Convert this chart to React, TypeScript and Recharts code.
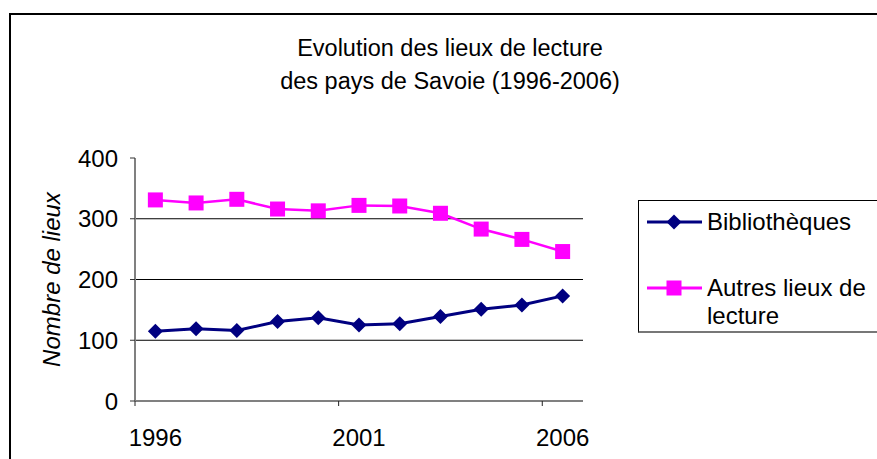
import { LineChart, Line, XAxis, YAxis, ReferenceLine, Legend, Label } from 'recharts'

const years = ['1996', '1997', '1998', '1999', '2000', '2001', '2002', '2003', '2004', '2005', '2006']
const bibliotheques = [115, 119, 116, 131, 137, 125, 127, 139, 151, 158, 173]
const autresLieux = [331, 326, 332, 316, 313, 322, 321, 309, 283, 266, 246]
const yTicks = [0, 100, 200, 300, 400]
const gridValues = [100, 200, 300]
const legendOrder = ['bib', 'autres']

const data = years.map((year, i) => ({ year, bib: bibliotheques[i], autres: autresLieux[i] }))

const FONT = '"Liberation Sans", Arial, sans-serif'
const W = 877
const H = 459
const PLOT_LEFT = 135
const PLOT_RIGHT = 583
const PLOT_TOP = 158
const PLOT_BOTTOM = 401
const XAXIS_H = 30
const BAND = (PLOT_RIGHT - PLOT_LEFT) / years.length

const NAVY = '#000080'
const MAGENTA = '#FF00FF'

const Diamond = ({ cx, cy, fill }: any) => {
    if (cx == null || cy == null) return null
    const r = 7.5
    return <polygon points={`${cx},${cy - r} ${cx + r},${cy} ${cx},${cy + r} ${cx - r},${cy}`} fill={fill} />
}

const Square = ({ cx, cy, fill }: any) => {
    if (cx == null || cy == null) return null
    const s = 15
    return <rect x={cx - s / 2} y={cy - s / 2} width={s} height={s} fill={fill} />
}

// ticks sit on category boundaries, labels on category centres (Excel style)
const YearTick = ({ x, y, payload }: any) => {
    const tx = x - BAND / 2
    return (
        <g>
            <line x1={tx} x2={tx} y1={y} y2={y + 5} stroke="#222" strokeWidth={1} />
            <text x={x} y={y + 45} textAnchor="middle" fontSize={24} fontFamily={FONT} fill="#000">
                {payload.value}
            </text>
        </g>
    )
}

const YLabel = ({ viewBox }: any) => {
    const cx = viewBox.x + 60
    const cy = viewBox.y + viewBox.height / 2
    return (
        <text
            x={cx}
            y={cy}
            transform={`rotate(-90 ${cx} ${cy})`}
            textAnchor="middle"
            fontSize={24}
            fontStyle="italic"
            fontFamily={FONT}
            fill="#000"
        >
            Nombre de lieux
        </text>
    )
}

const LegendBox = ({ payload }: any) => {
    const rows = [7, 73]
    const items = [...(payload || [])].sort(
        (a: any, b: any) => legendOrder.indexOf(a.dataKey) - legendOrder.indexOf(b.dataKey)
    )
    return (
        <div
            style={{
                position: 'relative',
                width: 250,
                height: 133,
                boxSizing: 'border-box',
                borderTop: '1px solid #000',
                borderLeft: '1px solid #000',
                borderBottom: '2px solid #777',
                background: '#fff',
                fontFamily: FONT,
                fontSize: 24,
                lineHeight: '28px',
                color: '#000',
            }}
        >
            {items.map((entry: any, i: number) => (
                <div key={entry.value} style={{ position: 'absolute', left: 0, top: rows[i] }}>
                    <svg width={66} height={28} style={{ position: 'absolute', left: 0, top: 0 }}>
                        <line x1={8} x2={63} y1={14} y2={14} stroke={entry.color} strokeWidth={3} />
                        {entry.dataKey === 'bib' ? (
                            <Diamond cx={35} cy={14} fill={entry.color} />
                        ) : (
                            <Square cx={35} cy={14} fill={entry.color} />
                        )}
                    </svg>
                    <div style={{ position: 'absolute', left: 68, top: 0, width: 172 }}>{entry.value}</div>
                </div>
            ))}
        </div>
    )
}

export default function App() {
    return (
        <div style={{ position: 'absolute', left: 0, top: 0, width: W, height: H, overflow: 'hidden', background: '#fff' }}>
            <div
                style={{
                    position: 'absolute',
                    left: 9,
                    top: 13,
                    width: 900,
                    height: 500,
                    border: '2px solid #000',
                    boxSizing: 'border-box',
                }}
            />
            <div
                style={{
                    position: 'absolute',
                    left: 0,
                    top: 32,
                    width: 900,
                    textAlign: 'center',
                    fontFamily: FONT,
                    fontSize: 23.5,
                    lineHeight: '33px',
                    color: '#000',
                }}
            >
                Evolution des lieux de lecture
                <br />
                des pays de Savoie (1996-2006)
            </div>
            <div style={{ position: 'absolute', left: 0, top: 0 }}>
                <LineChart
                    width={W}
                    height={H}
                    data={data}
                    margin={{ top: PLOT_TOP, right: W - PLOT_RIGHT, bottom: H - PLOT_BOTTOM - XAXIS_H, left: 0 }}
                >
                    <XAxis
                        dataKey="year"
                        interval={4}
                        height={XAXIS_H}
                        padding={{ left: BAND / 2, right: BAND / 2 }}
                        tickLine={false}
                        tickSize={0}
                        tickMargin={0}
                        axisLine={{ stroke: '#808080', strokeWidth: 2 }}
                        tick={<YearTick />}
                    />
                    <YAxis
                        width={PLOT_LEFT}
                        domain={[0, 400]}
                        ticks={yTicks}
                        interval={0}
                        tickSize={5}
                        tickMargin={12}
                        tickLine={{ stroke: '#333' }}
                        axisLine={{ stroke: '#808080', strokeWidth: 2 }}
                        tick={{ fontSize: 24, fontFamily: FONT, fill: '#000' }}
                    >
                        <Label content={<YLabel />} />
                    </YAxis>
                    {gridValues.map((v) => (
                        <ReferenceLine key={v} y={v} stroke="#000" strokeWidth={1} />
                    ))}
                    <Legend
                        layout="vertical"
                        align="center"
                        verticalAlign="middle"
                        wrapperStyle={{ left: 638, top: 200, width: 250, height: 133 }}
                        content={<LegendBox />}
                    />
                    <Line
                        type="linear"
                        dataKey="bib"
                        name="Bibliothèques"
                        stroke={NAVY}
                        strokeWidth={3}
                        dot={<Diamond fill={NAVY} />}
                        activeDot={false}
                        isAnimationActive={false}
                    />
                    <Line
                        type="linear"
                        dataKey="autres"
                        name="Autres lieux de lecture"
                        stroke={MAGENTA}
                        strokeWidth={2.5}
                        dot={<Square fill={MAGENTA} />}
                        activeDot={false}
                        isAnimationActive={false}
                    />
                </LineChart>
            </div>
        </div>
    )
}
